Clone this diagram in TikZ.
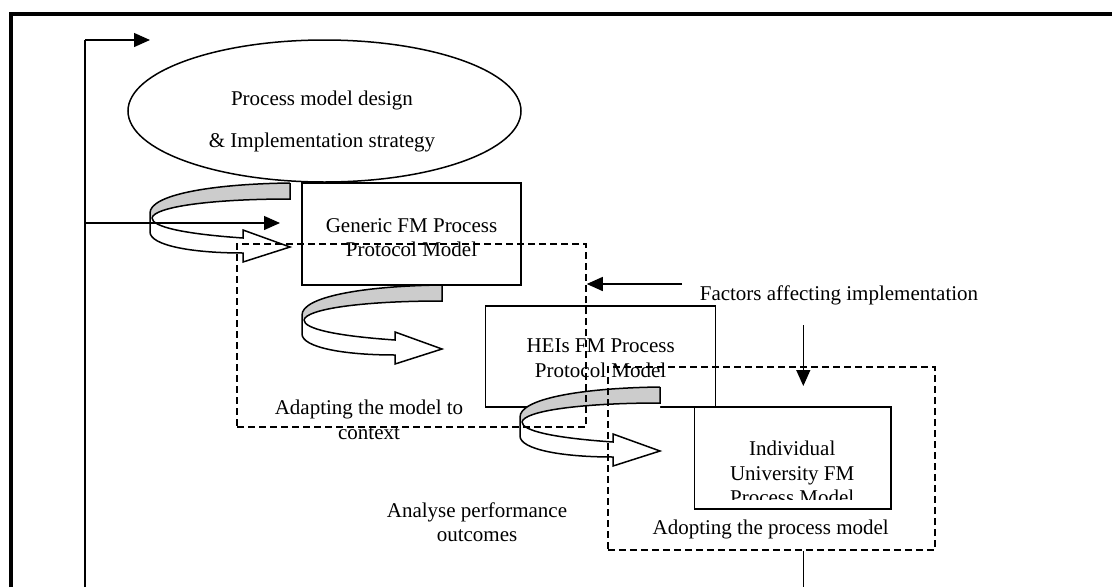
\documentclass[tikz,border=0pt]{standalone}
\usepackage{fontspec}
\setmainfont{Liberation Serif}
\usetikzlibrary{arrows.meta,shapes.geometric}
\definecolor{ribgrey}{gray}{0.8}
\tikzset{
  thinline/.style={line width=1.3pt},
  boxnode/.style={draw,line width=1.5pt,fill=white,rectangle,inner sep=0pt},
  dashbox/.style={draw,line width=1.5pt,dash pattern=on 7pt off 4pt,rectangle,inner sep=0pt},
  txt/.style={align=center,inner sep=0pt,font=\fontsize{21}{24.5}\selectfont},
  arr/.style={thinline,-{Triangle[length=16pt,width=14pt]}},
  curlarrow/.pic={
    \fill[white] (0,0) .. controls (-80,1) and (-140,12) .. (-140,30) -- (-140,49)
      .. controls (-140,62) and (-100,70) .. (-47,70) -- (-47,79) -- (0,64) -- (-47,47) -- (0,47) -- cycle;
    \fill[ribgrey] (0,0) .. controls (-80,1) and (-140,12) .. (-140,30) -- (-138,35)
      .. controls (-136,24) and (-80,16) .. (0,16) -- cycle;
    \draw[line width=1.5pt,line join=miter] (0,0) .. controls (-80,1) and (-140,12) .. (-140,30) -- (-140,49)
      .. controls (-140,62) and (-100,70) .. (-47,70) -- (-47,79) -- (0,64) -- (-47,47) -- (-47,55)
      .. controls (-105,51) and (-138,44) .. (-138,35);
    \draw[line width=1.5pt] (-138,35) .. controls (-136,24) and (-80,16) .. (0,16) -- (0,0);
  }
}
\begin{document}
\begin{tikzpicture}[x=1pt,y=-1pt]
\useasboundingbox (0,0) rectangle (1112,587);
\fill[white] (0,0) rectangle (1112,587);
% outer frame
\draw[line width=4pt,line join=miter] (11.3,587) -- (11.3,13.7) -- (1112,13.7);

% ellipse
\node[ellipse,draw,line width=1.5pt,fill=white,minimum width=393pt,minimum height=142pt,inner sep=0pt] (design) at (324.5,111) {};
\node[txt] (designtxt) at (322,121) {Process model design\\[17.5pt]\& Implementation strategy};

% boxes
\node[boxnode,minimum width=219pt,minimum height=102pt] (generic) at (411.5,234) {};
\node[txt] (generictxt) at (411.5,237.5) {Generic FM Process\\Protocol Model};

\node[boxnode,minimum width=230pt,minimum height=101pt] (hei) at (600.5,356.5) {};
\node[txt] (heitxt) at (600.6,358) {HEIs FM Process\\Protocol Model};

\node[boxnode,minimum width=196.5pt,minimum height=102pt] (indiv) at (792.75,458) {};
\begin{scope}
  \clip (695.5,408) rectangle (890,499);
  \node[txt] (indivtxt) at (792.2,473) {Individual\\University FM\\Process Model};
\end{scope}

% curled arrows
\pic at (290,183) {curlarrow};
\pic at (442,285) {curlarrow};
\pic at (660,387) {curlarrow};

% feedback loop
\coordinate (fbbot) at (85,587);
\coordinate (fbtop) at (85,40);
\coordinate (fbtip) at (150,40);
\coordinate (fbmid) at (85,223);
\coordinate (fbmidtip) at (280,223);
\draw[thinline] (fbbot) -- (fbtop);
\draw[arr] (fbtop) -- (fbtip);
\draw[arr] (fbmid) -- (fbmidtip);

% dashed boxes
\node[dashbox,minimum width=349pt,minimum height=183pt] (adapt) at (411.5,335.5) {};
\node[dashbox,minimum width=327pt,minimum height=183pt] (adopt) at (771.25,458.5) {};

% labels
\node[txt] (adapttxt) at (369,420) {Adapting the model to\\context};
\node[txt] (adopttxt) at (770.7,529.5) {Adopting the process model};
\node[txt] (factorstxt) at (839,295) {Factors affecting implementation};
\node[txt] (analysetxt) at (477,522) {Analyse performance\\outcomes};

% factor arrows
\coordinate (fa1) at (682,284);
\draw[arr] (fa1) -- (adapt.east |- fa1);
\coordinate (fa2) at (803.3,325);
\coordinate (fa3) at (803.3,386);
\draw[arr] (fa2) -- (fa3);
\coordinate (outbot) at (803.3,587);
\draw[thinline] (adopt.south -| outbot) -- (outbot);
\end{tikzpicture}
\end{document}
